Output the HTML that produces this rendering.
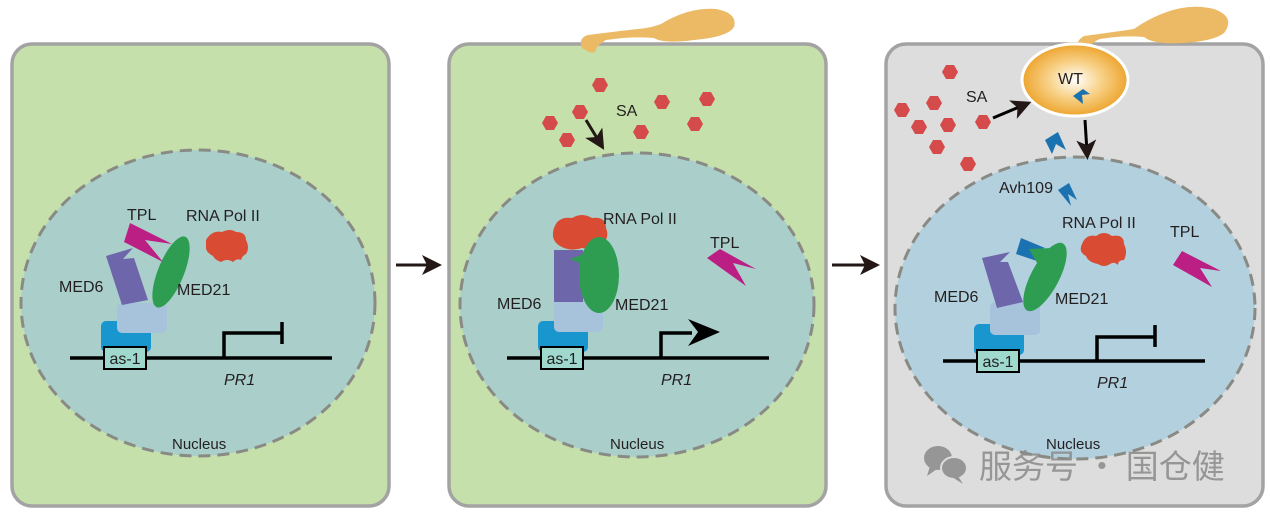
<!DOCTYPE html>
<html><head><meta charset="utf-8"><style>
html,body{margin:0;padding:0;background:#fff;width:1270px;height:517px;overflow:hidden}
svg text{font-family:"Liberation Sans",Arial,sans-serif;fill:#231f20}
</style></head><body>
<svg width="1270" height="517" viewBox="0 0 1270 517" xmlns="http://www.w3.org/2000/svg">
<defs>
<radialGradient id="wt" cx="0.5" cy="0.5" r="0.55"><stop offset="0" stop-color="#fff"/><stop offset="0.45" stop-color="#f8d28a"/><stop offset="1" stop-color="#eb9c1c"/></radialGradient>
<marker id="ah" markerWidth="20" markerHeight="20" refX="12" refY="10" orient="auto" markerUnits="userSpaceOnUse"><path d="M0,0 L20,10 L0,20 L5,10 Z" fill="#231815"/></marker>
<g id="hex"><polygon points="-8,0 -4,-7 4,-7 8,0 4,7 -4,7" fill="#d54b4b"/></g>
<g id="dna">
<line x1="70" y1="358" x2="332" y2="358" stroke="#000" stroke-width="3.5"/>
<rect x="101" y="321" width="50" height="31" rx="5" fill="#1a96cf"/>
<rect x="104" y="347" width="42" height="22" fill="#9fd8cc" stroke="#000" stroke-width="2"/>
<text x="125" y="364" font-size="16" text-anchor="middle">as-1</text>
<text x="224" y="385" font-size="16" font-style="italic">PR1</text>
</g>
</defs>

<rect x="12" y="44" width="377" height="462" rx="20" fill="#c5e0aa" stroke="#a3a3a3" stroke-width="3.5"/>
<rect x="449" y="44" width="377" height="462" rx="20" fill="#c5e0aa" stroke="#a3a3a3" stroke-width="3.5"/>
<rect x="886" y="44" width="377" height="462" rx="20" fill="#dcdddc" stroke="#a3a3a3" stroke-width="3.5"/>

<ellipse cx="198" cy="303" rx="177" ry="153" fill="#aacfcb" stroke="#8a8a84" stroke-width="3" stroke-dasharray="12,7"/>
<ellipse cx="637" cy="305" rx="177" ry="152" fill="#aacfcb" stroke="#8a8a84" stroke-width="3" stroke-dasharray="12,7"/>
<ellipse cx="1075" cy="308" rx="180" ry="151" fill="#b3d0de" stroke="#8a8a84" stroke-width="3" stroke-dasharray="12,7"/>

<line x1="396" y1="265" x2="434" y2="265" stroke="#231815" stroke-width="3" marker-end="url(#ah)"/>
<line x1="832" y1="265" x2="872" y2="265" stroke="#231815" stroke-width="3" marker-end="url(#ah)"/>

<!-- PANEL 1 -->
<use href="#dna"/>
<rect x="117" y="303" width="50" height="30" rx="5" fill="#a7c3dc"/>
<polygon points="106,256 133,248 123,259 134,258 148,300 122,305" fill="#6e66aa"/>
<ellipse cx="171" cy="272" rx="13" ry="38" transform="rotate(22 171 272)" fill="#2e9d51"/>
<polygon points="130,223 172,244 145,240 163,262 124,242" fill="#bb1f83"/>
<path d="M206,240 q6,-10 16,-8 q8,-4 14,0 q10,0 10,8 q4,8 0,14 q-4,2 -5,6 q-4,-2 -8,2 q-6,-4 -12,0 q-6,-2 -8,-6 q-8,-4 -7,-10 z" fill="#d94b33"/>
<path d="M224,358 V333 H282 M282,322 V344" fill="none" stroke="#000" stroke-width="3.5"/>
<text x="127" y="220" font-size="16">TPL</text>
<text x="186" y="221" font-size="16">RNA Pol II</text>
<text x="59" y="292" font-size="16">MED6</text>
<text x="177" y="295" font-size="16">MED21</text>
<text x="172" y="449" font-size="15">Nucleus</text>

<!-- PANEL 2 -->
<path d="M582,48 q-4,-10 6,-13 q30,-4 50,-6 q20,-2 28,-8 q26,-14 50,-12 q22,4 18,18 q-6,10 -40,13 q-30,4 -40,-2 q-20,-2 -48,2 q-10,6 -10,10 q-2,6 -14,-2 z" fill="#ecb965"/>
<use href="#hex" x="600" y="85"/><use href="#hex" x="580" y="112"/><use href="#hex" x="550" y="123"/><use href="#hex" x="567" y="140"/>
<use href="#hex" x="662" y="102"/><use href="#hex" x="707" y="99"/><use href="#hex" x="695" y="124"/><use href="#hex" x="641" y="132"/>
<line x1="586" y1="120" x2="600" y2="143" stroke="#231815" stroke-width="3" marker-end="url(#ah)"/>
<text x="616" y="116" font-size="16">SA</text>
<g transform="translate(437,0)"><use href="#dna"/></g>
<rect x="554" y="298" width="49" height="34" rx="5" fill="#a7c3dc"/>
<rect x="554" y="250" width="29" height="52" fill="#6e66aa"/>
<path d="M554,228 q4,-12 18,-10 q10,-6 20,0 q14,-2 14,10 q4,10 -4,16 q-8,6 -20,4 q-12,4 -22,-2 q-10,-6 -6,-18 z" fill="#d94b33"/>
<ellipse cx="599" cy="275" rx="20" ry="38" fill="#2e9d51"/>
<polygon points="570,259 595,250 592,268" fill="#2e9d51"/>
<path d="M661,358 V333 H692" fill="none" stroke="#000" stroke-width="3.5"/>
<polygon points="688,319 720,332 688,346 698,332" fill="#000"/>
<polygon points="707,258 720,249 756,269 733,263 746,286" fill="#bb1f83"/>
<text x="603" y="224" font-size="16">RNA Pol II</text>
<text x="710" y="248" font-size="16">TPL</text>
<text x="497" y="309" font-size="16">MED6</text>
<text x="615" y="310" font-size="16">MED21</text>
<text x="610" y="449" font-size="15">Nucleus</text>

<!-- PANEL 3 -->
<path d="M1078,52 q-4,-10 6,-16 q30,-4 50,-7 q14,-10 30,-16 q26,-10 50,-4 q22,8 10,24 q-10,8 -40,10 q-30,2 -40,-6 q-20,-2 -44,2 q-10,4 -10,10 q-2,6 -12,3 z" fill="#ecb965"/>
<ellipse cx="1075" cy="80" rx="53" ry="36" fill="url(#wt)" stroke="#fff" stroke-width="3"/>
<text x="1058" y="84" font-size="16">WT</text>
<polygon points="1073,96 1083,89 1090,94 1082,95 1083,104" fill="#1a72b0"/>
<use href="#hex" x="950" y="72"/><use href="#hex" x="934" y="103"/><use href="#hex" x="902" y="110"/><use href="#hex" x="948" y="125"/>
<use href="#hex" x="919" y="127"/><use href="#hex" x="983" y="122"/><use href="#hex" x="937" y="147"/><use href="#hex" x="968" y="164"/>
<text x="966" y="102" font-size="16">SA</text>
<line x1="993" y1="118" x2="1024" y2="105" stroke="#000" stroke-width="3" marker-end="url(#ah)"/>
<line x1="1085" y1="120" x2="1087" y2="152" stroke="#000" stroke-width="3" marker-end="url(#ah)"/>
<polygon points="1045,140 1058,132 1066,150 1056,144 1052,154" fill="#1a72b0"/>
<polygon points="1058,190 1069,183 1077,200 1068,194 1071,206" fill="#1a72b0"/>
<text x="999" y="193" font-size="16">Avh109</text>
<g transform="translate(873,3)"><use href="#dna"/></g>
<rect x="990" y="302" width="50" height="33" rx="5" fill="#a7c3dc"/>
<polygon points="982,258 1010,252 1000,262 1008,262 1023,302 997,308" fill="#6e66aa"/>
<polygon points="1016,254 1021,238 1045,248 1035,250 1040,262" fill="#1a72b0"/>
<ellipse cx="1045" cy="277" rx="14" ry="38" transform="rotate(28 1045 277)" fill="#2e9d51"/>
<polygon points="1029,249 1052,248 1040,268" fill="#2e9d51"/>
<path d="M1082,244 q4,-10 14,-8 q8,-6 16,0 q12,-2 12,8 q4,8 0,16 q-6,0 -6,5 q-4,-4 -8,-1 q-6,4 -12,0 q-10,-2 -12,-8 q-8,-4 -4,-12 z" fill="#d94b33"/>
<path d="M1097,361 V337 H1155 M1155,325 V347" fill="none" stroke="#000" stroke-width="3.5"/>
<polygon points="1173,265 1182,251 1221,271 1200,268 1212,287" fill="#bb1f83"/>
<text x="1062" y="228" font-size="16">RNA Pol II</text>
<text x="1170" y="237" font-size="16">TPL</text>
<text x="934" y="302" font-size="16">MED6</text>
<text x="1055" y="304" font-size="16">MED21</text>
<text x="1046" y="449" font-size="15">Nucleus</text>

<g fill="#8a8a8a" opacity="0.85">
<ellipse cx="938" cy="458" rx="14" ry="12"/><ellipse cx="954" cy="468" rx="13" ry="11" stroke="#dcdddc" stroke-width="2"/>
<polygon points="930,466 927,476 937,469"/><polygon points="958,476 963,484 952,477"/>
</g>
<text x="979" y="478" font-size="33" style="font-family:'Noto Sans CJK SC',sans-serif;fill:#8a8a8a" opacity="0.85">服务号 · 国仓健</text>
</svg>
</body></html>
